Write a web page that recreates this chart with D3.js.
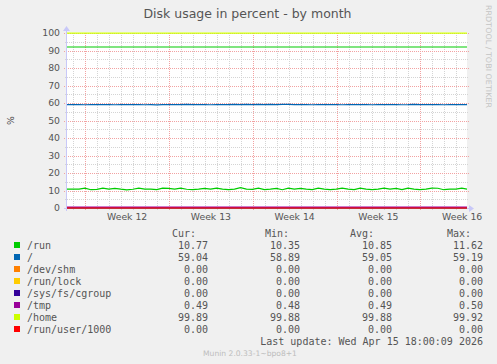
<!DOCTYPE html>
<html>
<head>
<meta charset="utf-8">
<script src="https://cdn.jsdelivr.net/npm/d3@7"></script>
<style>
  body { margin: 0; background: #f0f0f0; }
  svg { display: block; }
</style>
</head>
<body>
<div class="graph"></div>
<script>
// munin df graph, month view

var names = ["/run", "/", "/dev/shm", "/run/lock", "/sys/fs/cgroup", "/tmp", "/home", "/run/user/1000"];
var colors = ["#00cc00", "#0066b3", "#ff8000", "#ffcc00", "#330099", "#990099", "#ccff00", "#ff0000"];

// one sample every 12 hours
var run = [10.80, 10.78, 10.82, 11.35, 10.45, 10.60, 11.30, 10.80, 11.20, 10.75, 10.40, 10.70,
  11.40, 10.80, 10.75, 10.50, 11.30, 11.25, 10.80, 11.35, 10.70, 10.45, 10.80, 11.25,
  10.75, 11.30, 10.80, 10.45, 10.75, 11.62, 10.80, 10.70, 11.30, 10.50, 10.80, 11.25,
  10.45, 11.30, 10.80, 11.20, 10.78, 10.50, 11.30, 10.80, 10.45, 10.75, 11.35, 10.80,
  10.50, 11.30, 10.75, 10.45, 10.80, 11.30, 10.80, 11.25, 10.50, 11.30, 10.75, 10.45,
  10.80, 11.35, 11.30, 10.45, 10.78, 10.80, 11.30, 10.77];
var root = [59.02, 59.03, 59.02, 59.01, 59.02, 59.03, 59.02, 59.02, 59.01, 59.02, 59.03, 59.02,
  59.02, 59.01, 59.02, 58.89, 59.02, 59.03, 59.02, 59.02, 59.19, 59.02, 59.03, 59.02,
  59.01, 59.02, 59.02, 59.03, 59.19, 59.02, 59.19, 59.02, 59.19, 59.02, 59.19, 59.02,
  59.19, 59.18, 59.03, 59.02, 59.02, 59.01, 59.02, 59.03, 59.02, 59.02, 59.01, 59.02,
  59.03, 59.02, 59.02, 59.01, 59.02, 59.03, 59.02, 59.02, 59.01, 59.02, 59.19, 59.02,
  59.03, 59.02, 59.02, 59.01, 59.02, 59.03, 59.04, 59.04];
var devShm = [0, 0, 0, 0, 0, 0, 0, 0, 0, 0, 0, 0, 0, 0, 0, 0, 0, 0, 0, 0, 0, 0, 0, 0,
  0, 0, 0, 0, 0, 0, 0, 0, 0, 0, 0, 0, 0, 0, 0, 0, 0, 0, 0, 0, 0, 0, 0, 0,
  0, 0, 0, 0, 0, 0, 0, 0, 0, 0, 0, 0, 0, 0, 0, 0, 0, 0, 0, 0];
var runLock = devShm.slice();
var cgroup = devShm.slice();
var tmp = [0.49, 0.49, 0.48, 0.49, 0.49, 0.50, 0.49, 0.49, 0.48, 0.49, 0.49, 0.49,
  0.50, 0.49, 0.49, 0.48, 0.49, 0.49, 0.49, 0.50, 0.49, 0.49, 0.48, 0.49,
  0.49, 0.49, 0.50, 0.49, 0.49, 0.48, 0.49, 0.49, 0.49, 0.50, 0.49, 0.49,
  0.48, 0.49, 0.49, 0.49, 0.50, 0.49, 0.49, 0.48, 0.49, 0.49, 0.49, 0.50,
  0.49, 0.49, 0.48, 0.49, 0.49, 0.49, 0.50, 0.49, 0.49, 0.48, 0.49, 0.49,
  0.49, 0.50, 0.49, 0.49, 0.48, 0.49, 0.49, 0.49];
var home = [99.88, 99.88, 99.89, 99.88, 99.88, 99.92, 99.88, 99.88, 99.89, 99.88, 99.88, 99.88,
  99.89, 99.88, 99.88, 99.90, 99.88, 99.88, 99.89, 99.88, 99.88, 99.88, 99.89, 99.88,
  99.88, 99.91, 99.88, 99.88, 99.89, 99.88, 99.88, 99.88, 99.89, 99.88, 99.88, 99.90,
  99.88, 99.88, 99.89, 99.88, 99.88, 99.88, 99.89, 99.88, 99.88, 99.92, 99.88, 99.88,
  99.89, 99.88, 99.88, 99.88, 99.89, 99.88, 99.88, 99.90, 99.88, 99.88, 99.89, 99.88,
  99.88, 99.88, 99.89, 99.88, 99.88, 99.88, 99.89, 99.89];
var runUser = devShm.slice();
var series = [run, root, devShm, runLock, cgroup, tmp, home, runUser];

var hrule = 92;

var legendCur = ["10.77", "59.04", "0.00", "0.00", "0.00", "0.49", "99.89", "0.00"];
var legendMin = ["10.35", "58.89", "0.00", "0.00", "0.00", "0.48", "99.88", "0.00"];
var legendAvg = ["10.85", "59.05", "0.00", "0.00", "0.00", "0.49", "99.88", "0.00"];
var legendMax = ["11.62", "59.19", "0.00", "0.00", "0.00", "0.50", "99.92", "0.00"];

var yTicks = [0, 10, 20, 30, 40, 50, 60, 70, 80, 90, 100];
var yMinor = [5, 15, 25, 35, 45, 55, 65, 75, 85, 95];
var weekLabels = ["Week 12", "Week 13", "Week 14", "Week 15", "Week 16"];
var weekStarts = [new Date(Date.UTC(2026, 2, 16)), new Date(Date.UTC(2026, 2, 23)),
  new Date(Date.UTC(2026, 2, 30)), new Date(Date.UTC(2026, 3, 6)), new Date(Date.UTC(2026, 3, 13))];

var start = new Date(Date.UTC(2026, 2, 14, 11, 18));
var end = new Date(Date.UTC(2026, 3, 16, 21, 42));
var step = 12 * 3600 * 1000;

var width = 497, height = 364;
var pLeft = 67, pRight = 467, pTop = 33, pBottom = 208;

var svg = d3.select(".graph").append("svg").attr("width", width).attr("height", height);

var x = d3.scaleUtc().domain([start, end]).range([pLeft, pRight]);
var y = d3.scaleLinear().domain([0, 100]).range([pBottom, pTop]);

svg.append("rect").attr("x", pLeft - 1).attr("y", pTop - 1)
  .attr("width", pRight - pLeft + 1).attr("height", pBottom - pTop + 1).attr("fill", "#ffffff");

var grid = svg.append("g").attr("shape-rendering", "crispEdges").attr("stroke-dasharray", "1,1");

// minor grid
grid.selectAll(".vmin").data(d3.utcDay.range(start, end)).enter().append("line")
  .attr("x1", function(d) { return Math.round(x(d)) + 0.5; })
  .attr("x2", function(d) { return Math.round(x(d)) + 0.5; })
  .attr("y1", pTop).attr("y2", pBottom + 2)
  .attr("stroke", "#d4d4d4");
grid.selectAll(".hmin").data(yMinor).enter().append("line")
  .attr("x1", pLeft - 2).attr("x2", pRight + 2)
  .attr("y1", function(d) { return Math.round(y(d)) + 0.5; })
  .attr("y2", function(d) { return Math.round(y(d)) + 0.5; })
  .attr("stroke", "#d4d4d4");

// major grid
grid.selectAll(".vmaj").data(weekStarts).enter().append("line")
  .attr("x1", function(d) { return Math.round(x(d)) + 0.5; })
  .attr("x2", function(d) { return Math.round(x(d)) + 0.5; })
  .attr("y1", pTop).attr("y2", pBottom + 3)
  .attr("stroke", "#f2a2a2");
grid.selectAll(".hmaj").data(yTicks).enter().append("line")
  .attr("x1", pLeft - 3).attr("x2", pRight + 2)
  .attr("y1", function(d) { return Math.round(y(d)) + 0.5; })
  .attr("y2", function(d) { return Math.round(y(d)) + 0.5; })
  .attr("stroke", "#f2a2a2");

// axes
var axisColor = "#c8c8f8";
svg.append("line").attr("x1", pLeft - 3).attr("x2", pRight + 2).attr("y1", pBottom + 0.5).attr("y2", pBottom + 0.5)
  .attr("stroke", axisColor).attr("shape-rendering", "crispEdges");
svg.append("line").attr("x1", pLeft - 0.5).attr("x2", pLeft - 0.5).attr("y1", pBottom + 3).attr("y2", pTop - 2)
  .attr("stroke", axisColor).attr("shape-rendering", "crispEdges");
svg.append("path").attr("d", "M" + (pRight + 2) + "," + (pBottom - 3) + "L" + (pRight + 7) + "," + (pBottom + 0.5) + "L" + (pRight + 2) + "," + (pBottom + 4) + "Z")
  .attr("fill", axisColor);
svg.append("path").attr("d", "M" + (pLeft - 4) + "," + (pTop - 2) + "L" + (pLeft - 0.5) + "," + (pTop - 7) + "L" + (pLeft + 3) + "," + (pTop - 2) + "Z")
  .attr("fill", axisColor);

// y labels
svg.selectAll(".ylab").data(yTicks).enter().append("text")
  .attr("x", 60).attr("y", function(d) { return y(d) + 3.4; })
  .attr("text-anchor", "end")
  .attr("font-family", "DejaVu Sans").attr("font-size", "9.3px").attr("fill", "#555")
  .text(function(d) { return d; });

// week labels, centred on the middle of each week
svg.selectAll(".xlab").data(weekStarts).enter().append("text")
  .attr("x", function(d) { return x(new Date(d.getTime() + 3.5 * 86400000)); })
  .attr("y", 220)
  .attr("text-anchor", "middle")
  .attr("font-family", "DejaVu Sans").attr("font-size", "9.3px").attr("fill", "#555")
  .text(function(d, i) { return weekLabels[i]; });

svg.append("defs").append("clipPath").attr("id", "plot")
  .append("rect").attr("x", pLeft).attr("y", pTop - 2).attr("width", pRight - pLeft).attr("height", pBottom - pTop + 4);

var line = d3.line()
  .x(function(d, i) { return x(new Date(start.getTime() + i * step)); })
  .y(function(d) { return y(d); });

var plot = svg.append("g").attr("clip-path", "url(#plot)");
plot.selectAll(".series").data(series).enter().append("path")
  .attr("d", line)
  .attr("fill", "none")
  .attr("stroke", function(d, i) { return colors[i]; })
  .attr("stroke-width", 1.2);

plot.append("line").attr("x1", pLeft).attr("x2", pRight)
  .attr("y1", y(hrule)).attr("y2", y(hrule))
  .attr("stroke", "#00cc00").attr("stroke-width", 1.2);

// title and side labels
svg.append("text").attr("x", 247.5).attr("y", 18.3).attr("text-anchor", "middle")
  .attr("font-family", "DejaVu Sans").attr("font-size", "12.5px").attr("fill", "#555")
  .text("Disk usage in percent - by month");

svg.append("text").attr("transform", "translate(14,120.5) rotate(-90)").attr("text-anchor", "middle")
  .attr("font-family", "DejaVu Sans").attr("font-size", "9.3px").attr("fill", "#555")
  .text("%");

svg.append("text").attr("transform", "translate(486,5) rotate(90)")
  .attr("font-family", "DejaVu Sans").attr("font-size", "7.6px").attr("fill", "#c4c4c4")
  .attr("textLength", 103).attr("lengthAdjust", "spacingAndGlyphs")
  .text("RRDTOOL / TOBI OETIKER");

// legend
var mono = "DejaVu Sans Mono";
var heads = [["Cur:", 172], ["Min:", 265], ["Avg:", 350], ["Max:", 447]];
svg.selectAll(".head").data(heads).enter().append("text")
  .attr("x", function(d) { return d[1]; }).attr("y", 237)
  .attr("font-family", mono).attr("font-size", "10px").attr("fill", "#555")
  .text(function(d) { return d[0]; });

var rows = svg.selectAll(".row").data(names).enter().append("g")
  .attr("transform", function(d, i) { return "translate(0," + (249 + i * 12) + ")"; });
rows.append("rect").attr("x", 14).attr("y", -7).attr("width", 6).attr("height", 6)
  .attr("fill", function(d, i) { return colors[i]; });
rows.append("text").attr("x", 27)
  .attr("font-family", mono).attr("font-size", "10px").attr("fill", "#555")
  .text(function(d) { return d; });
var cols = [[legendCur, 208], [legendMin, 300], [legendAvg, 392], [legendMax, 483]];
cols.forEach(function(c) {
  rows.append("text").attr("x", c[1]).attr("text-anchor", "end")
    .attr("font-family", mono).attr("font-size", "10px").attr("fill", "#555")
    .text(function(d, i) { return c[0][i]; });
});

svg.append("text").attr("x", 483).attr("y", 345).attr("text-anchor", "end")
  .attr("font-family", mono).attr("font-size", "10px").attr("fill", "#555")
  .text("Last update: Wed Apr 15 18:00:09 2026");

svg.append("text").attr("x", 250).attr("y", 356).attr("text-anchor", "middle")
  .attr("font-family", "DejaVu Sans").attr("font-size", "7.6px").attr("fill", "#bdbdbd")
  .text("Munin 2.0.33-1~bpo8+1");
</script>
</body>
</html>
